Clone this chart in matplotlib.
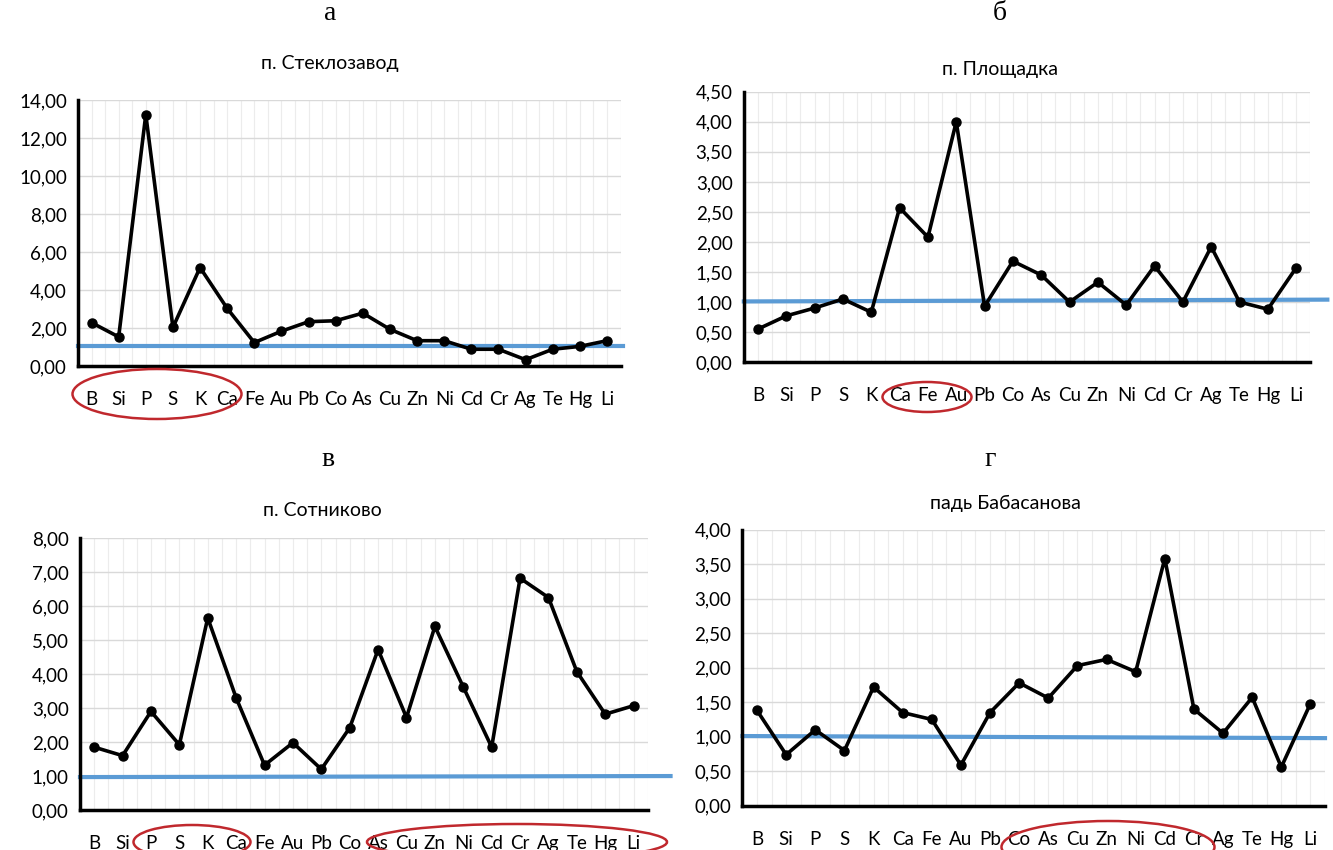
import matplotlib
matplotlib.use("Agg")
import matplotlib.pyplot as plt
import matplotlib.ticker as mticker
from matplotlib.patches import Ellipse

# data
elements = ["B", "Si", "P", "S", "K", "Ca", "Fe", "Au", "Pb", "Co",
            "As", "Cu", "Zn", "Ni", "Cd", "Cr", "Ag", "Te", "Hg", "Li"]

steklozavod = [2.30, 1.55, 13.25, 2.05, 5.20, 3.05, 1.25, 1.85, 2.35, 2.40,
               2.80, 1.95, 1.35, 1.35, 0.90, 0.90, 0.35, 0.90, 1.05, 1.35]
ploshchadka = [0.55, 0.77, 0.90, 1.05, 0.83, 2.57, 2.08, 4.00, 0.93, 1.68,
               1.45, 1.00, 1.33, 0.95, 1.60, 1.00, 1.92, 1.00, 0.88, 1.57]
sotnikovo = [1.85, 1.60, 2.90, 1.92, 5.65, 3.30, 1.32, 1.98, 1.20, 2.42,
             4.72, 2.72, 5.40, 3.62, 1.85, 6.82, 6.25, 4.07, 2.82, 3.07]
babasanova = [1.38, 0.74, 1.10, 0.80, 1.72, 1.35, 1.25, 0.59, 1.35, 1.78,
              1.56, 2.03, 2.12, 1.94, 3.58, 1.40, 1.05, 1.57, 0.56, 1.48]

# background level line (start, end)
ref_a = [1.06, 1.06]
ref_b = [1.01, 1.04]
ref_c = [0.97, 1.00]
ref_d = [1.01, 0.98]

LINE_BLUE = "#5b9bd5"
GRID = "#d9d9d9"
SANS = ["Lato", "DejaVu Sans"]
SERIF = ["Liberation Serif", "DejaVu Serif"]

fig = plt.figure(figsize=(13.33, 8.5), dpi=100)


def comma(v, pos):
    return f"{v:.2f}".replace(".", ",")


def panel(rect, values, ref, ymax, ystep, title, letter, title_xy, letter_xy, ref_end):
    ax = fig.add_axes(rect)
    x = list(range(len(elements)))
    ax.set_xlim(-0.5, len(elements) - 0.5)
    ax.set_ylim(0, ymax)
    ax.yaxis.set_major_locator(mticker.MultipleLocator(ystep))
    ax.yaxis.set_major_formatter(mticker.FuncFormatter(comma))
    ax.set_xticks(x)
    ax.set_xticklabels(elements, fontfamily=SANS, fontsize=13.5)
    ax.set_xticks([i + 0.5 for i in range(-1, len(elements))], minor=True)
    for lab in ax.get_yticklabels():
        lab.set_fontfamily(SANS)
        lab.set_fontsize(13.5)
    ax.tick_params(length=0, which="both", pad=8)
    ax.tick_params(axis="x", pad=18)
    ax.grid(axis="y", color=GRID, lw=1)
    ax.grid(axis="x", which="both", color="#ececec", lw=0.8)
    ax.set_axisbelow(True)
    for s in ["top", "right"]:
        ax.spines[s].set_visible(False)
    for s in ["left", "bottom"]:
        ax.spines[s].set_linewidth(2.5)
        ax.spines[s].set_zorder(5)

    ax.plot(x, values, color="black", lw=2.6, marker="o", ms=6.5, zorder=4)
    ax.plot([-0.5, ref_end], ref, color=LINE_BLUE, lw=3, zorder=3, clip_on=False)

    fig.text(title_xy[0] / 1333, 1 - title_xy[1] / 850, title, ha="center", va="center",
             fontfamily=SANS, fontsize=14)
    fig.text(letter_xy[0] / 1333, 1 - letter_xy[1] / 850, letter, ha="center", va="center",
             fontfamily=SERIF, fontsize=20)
    return ax


panel([0.0585, 0.569, 0.407, 0.313], steklozavod, ref_a, 14, 2,
      "п. Стеклозавод", "а", (330, 63), (330, 13), 19.6)
panel([0.558, 0.574, 0.425, 0.318], ploshchadka, ref_b, 4.5, 0.5,
      "п. Площадка", "б", (1000, 70), (1000, 13), 20.1)
panel([0.060, 0.047, 0.426, 0.320], sotnikovo, ref_c, 8, 1,
      "п. Сотниково", "в", (322, 510), (328, 460), 20.3)
panel([0.557, 0.052, 0.437, 0.325], babasanova, ref_d, 4, 0.5,
      "падь Бабасанова", "г", (1005, 503), (990, 460), 19.5)

# red ellipses around highlighted element groups (pixel positions -> inches)
ellipses = [(157, 394, 169, 50), (927, 397, 89, 30), (192, 842, 117, 34),
            (517, 842, 300, 36), (1108, 847, 213, 52)]
for cx, cy, w, h in ellipses:
    fig.add_artist(Ellipse((cx / 100, (850 - cy) / 100), w / 100, h / 100,
                           transform=fig.dpi_scale_trans, fill=False,
                           edgecolor="#c0282d", lw=1.8))

fig.savefig("out.png", dpi=100)
